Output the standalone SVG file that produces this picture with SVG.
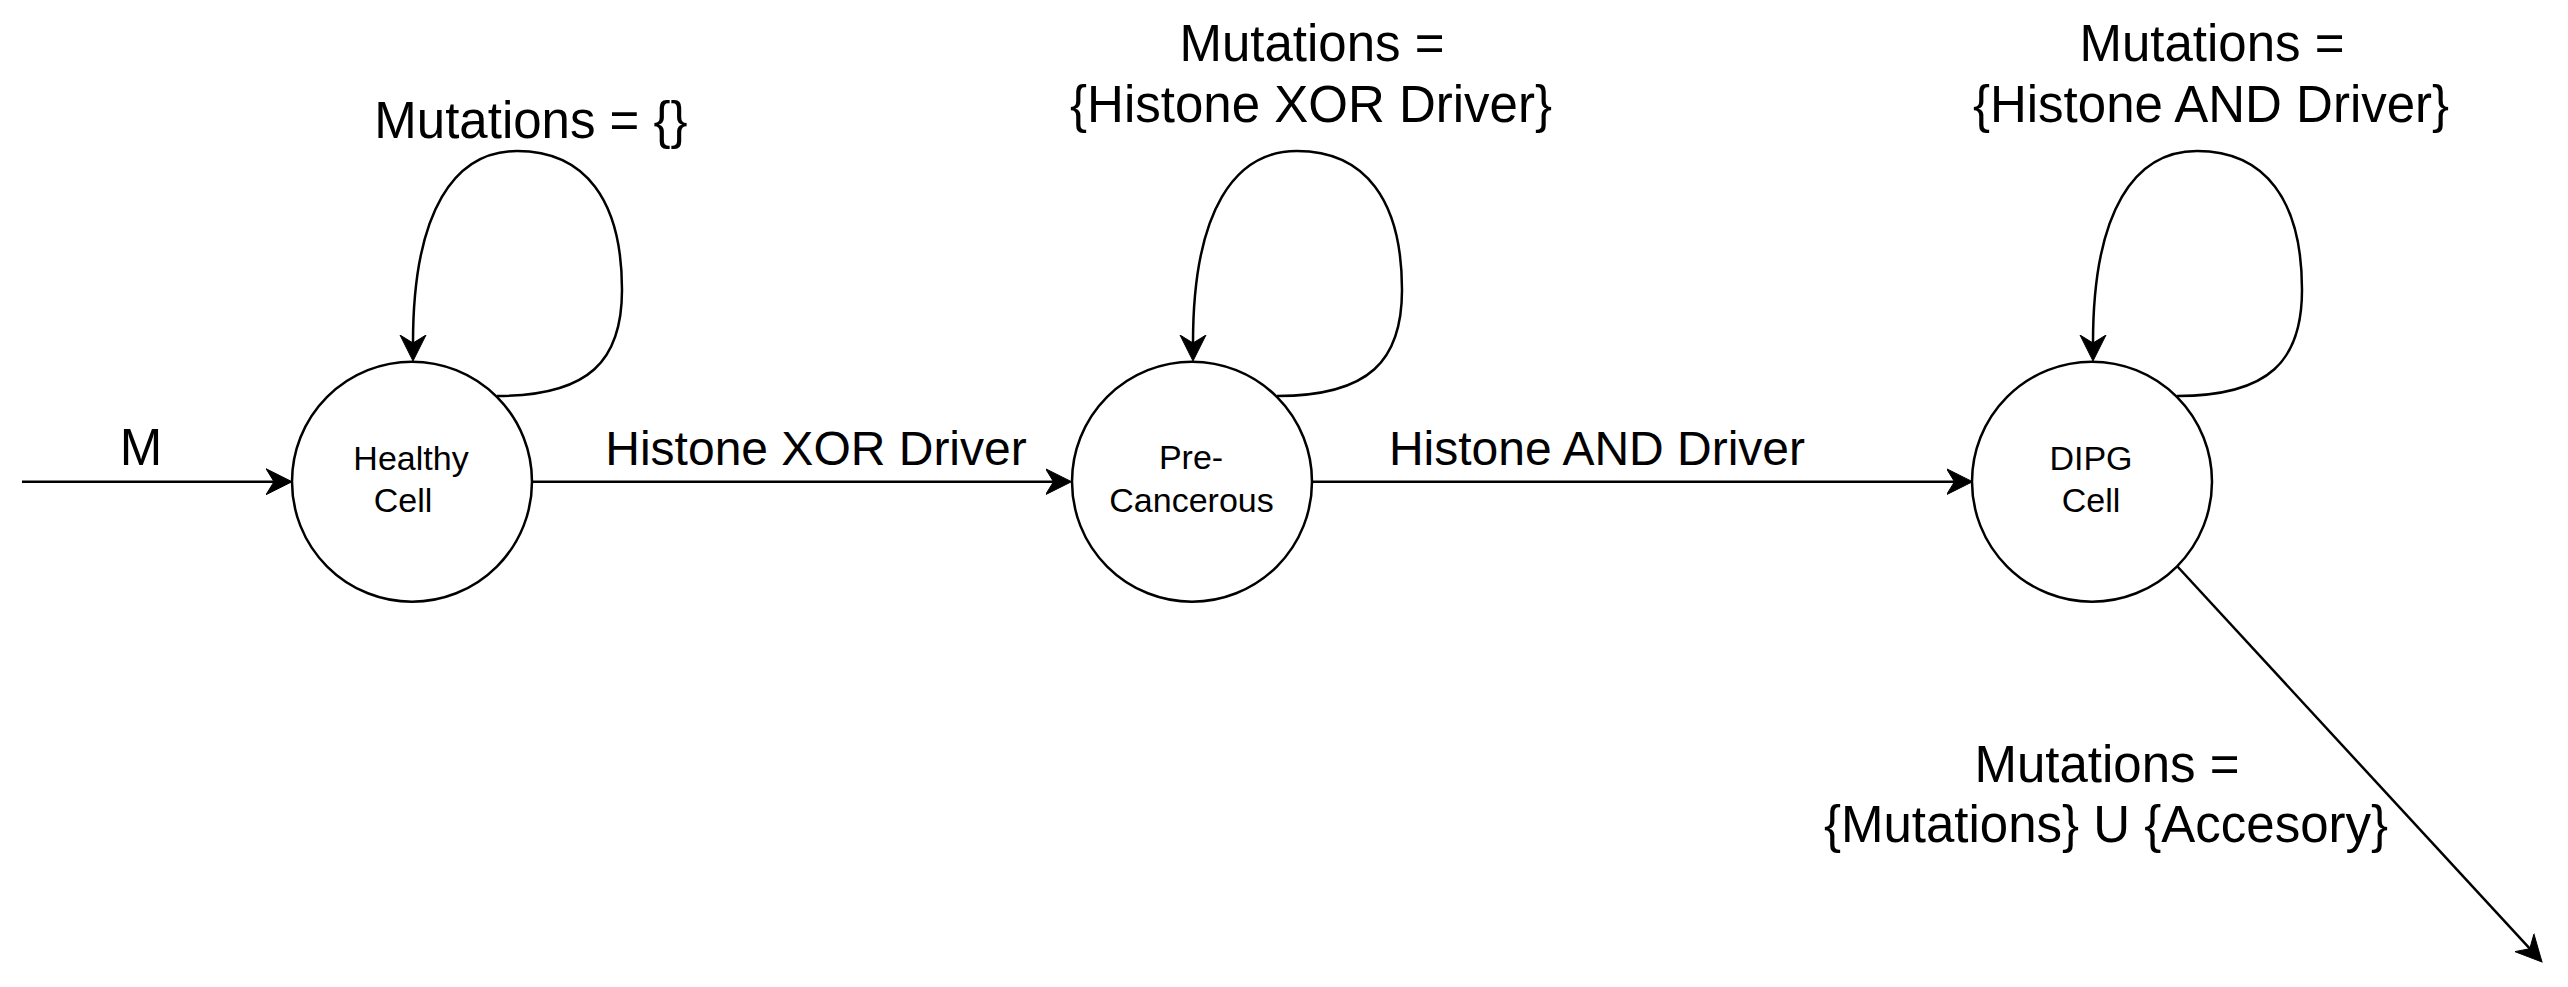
<svg xmlns="http://www.w3.org/2000/svg" width="2568" height="987" viewBox="0 0 2568 987">
<style>
.edge{fill:none;stroke:#000;stroke-width:2.5;}
.node{fill:#fff;stroke:#000;stroke-width:2.5;}
text{font-family:"Liberation Sans",Arial,Helvetica,sans-serif;fill:#000;text-anchor:middle;}
.nt{font-size:34px;}
.el{font-size:48px;}
.ll{font-size:51px;}
</style>
<defs>
<marker id="arr" markerUnits="userSpaceOnUse" markerWidth="30" markerHeight="30" viewBox="0 -15 30 30" refX="8" refY="0" orient="auto">
<path d="M26,0 L0,-13 L8,0 L0,13 Z" fill="#000" stroke="#000" stroke-width="1"/>
</marker>
</defs>
<rect width="2568" height="987" fill="#fff"/>
<g id="connectors">
<path class="edge" d="M22 481.7 L274 481.7" marker-end="url(#arr)"/>
<path class="edge" d="M532 481.7 L1053.5 481.7" marker-end="url(#arr)"/>
<path class="edge" d="M1313 481.7 L1954.5 481.7" marker-end="url(#arr)"/>
<path class="edge" d="M2177 566 L2529.8 948.7" marker-end="url(#arr)"/>
<path class="edge" d="M497 396 C590 396,622 360,622 290 C622 200,585 151,517 151 C455 151,413 210,413 343" marker-end="url(#arr)"/>
<path class="edge" d="M1277 396 C1370 396,1402 360,1402 290 C1402 200,1365 151,1297 151 C1235 151,1193 210,1193 343" marker-end="url(#arr)"/>
<path class="edge" d="M2177 396 C2270 396,2302 360,2302 290 C2302 200,2265 151,2197 151 C2135 151,2093 210,2093 343" marker-end="url(#arr)"/>
<text class="ll" x="141" y="465">M</text>
<text class="el" x="816" y="465">Histone XOR Driver</text>
<text class="el" x="1597" y="465">Histone AND Driver</text>
<text class="ll" x="531" y="138">Mutations = {}</text>
<text class="ll" x="1312" y="61">Mutations =</text>
<text class="ll" x="1311" y="122">{Histone XOR Driver}</text>
<text class="ll" x="2212" y="61">Mutations =</text>
<text class="ll" x="2211" y="122">{Histone AND Driver}</text>
<text class="ll" x="2107" y="782">Mutations =</text>
<text class="ll" x="2106" y="842">{Mutations} U {Accesory}</text>
</g>
<g id="healthy">
<circle class="node" cx="412" cy="481.7" r="120"/>
<text class="nt" x="411" y="470">Healthy</text>
<text class="nt" x="403" y="512">Cell</text>
</g>
<g id="precancerous">
<circle class="node" cx="1192" cy="481.7" r="120"/>
<text class="nt" x="1191" y="469">Pre-</text>
<text class="nt" x="1191.5" y="512">Cancerous</text>
</g>
<g id="dipg">
<circle class="node" cx="2092" cy="481.7" r="120"/>
<text class="nt" x="2091" y="470">DIPG</text>
<text class="nt" x="2091" y="512">Cell</text>
</g>
</svg>
